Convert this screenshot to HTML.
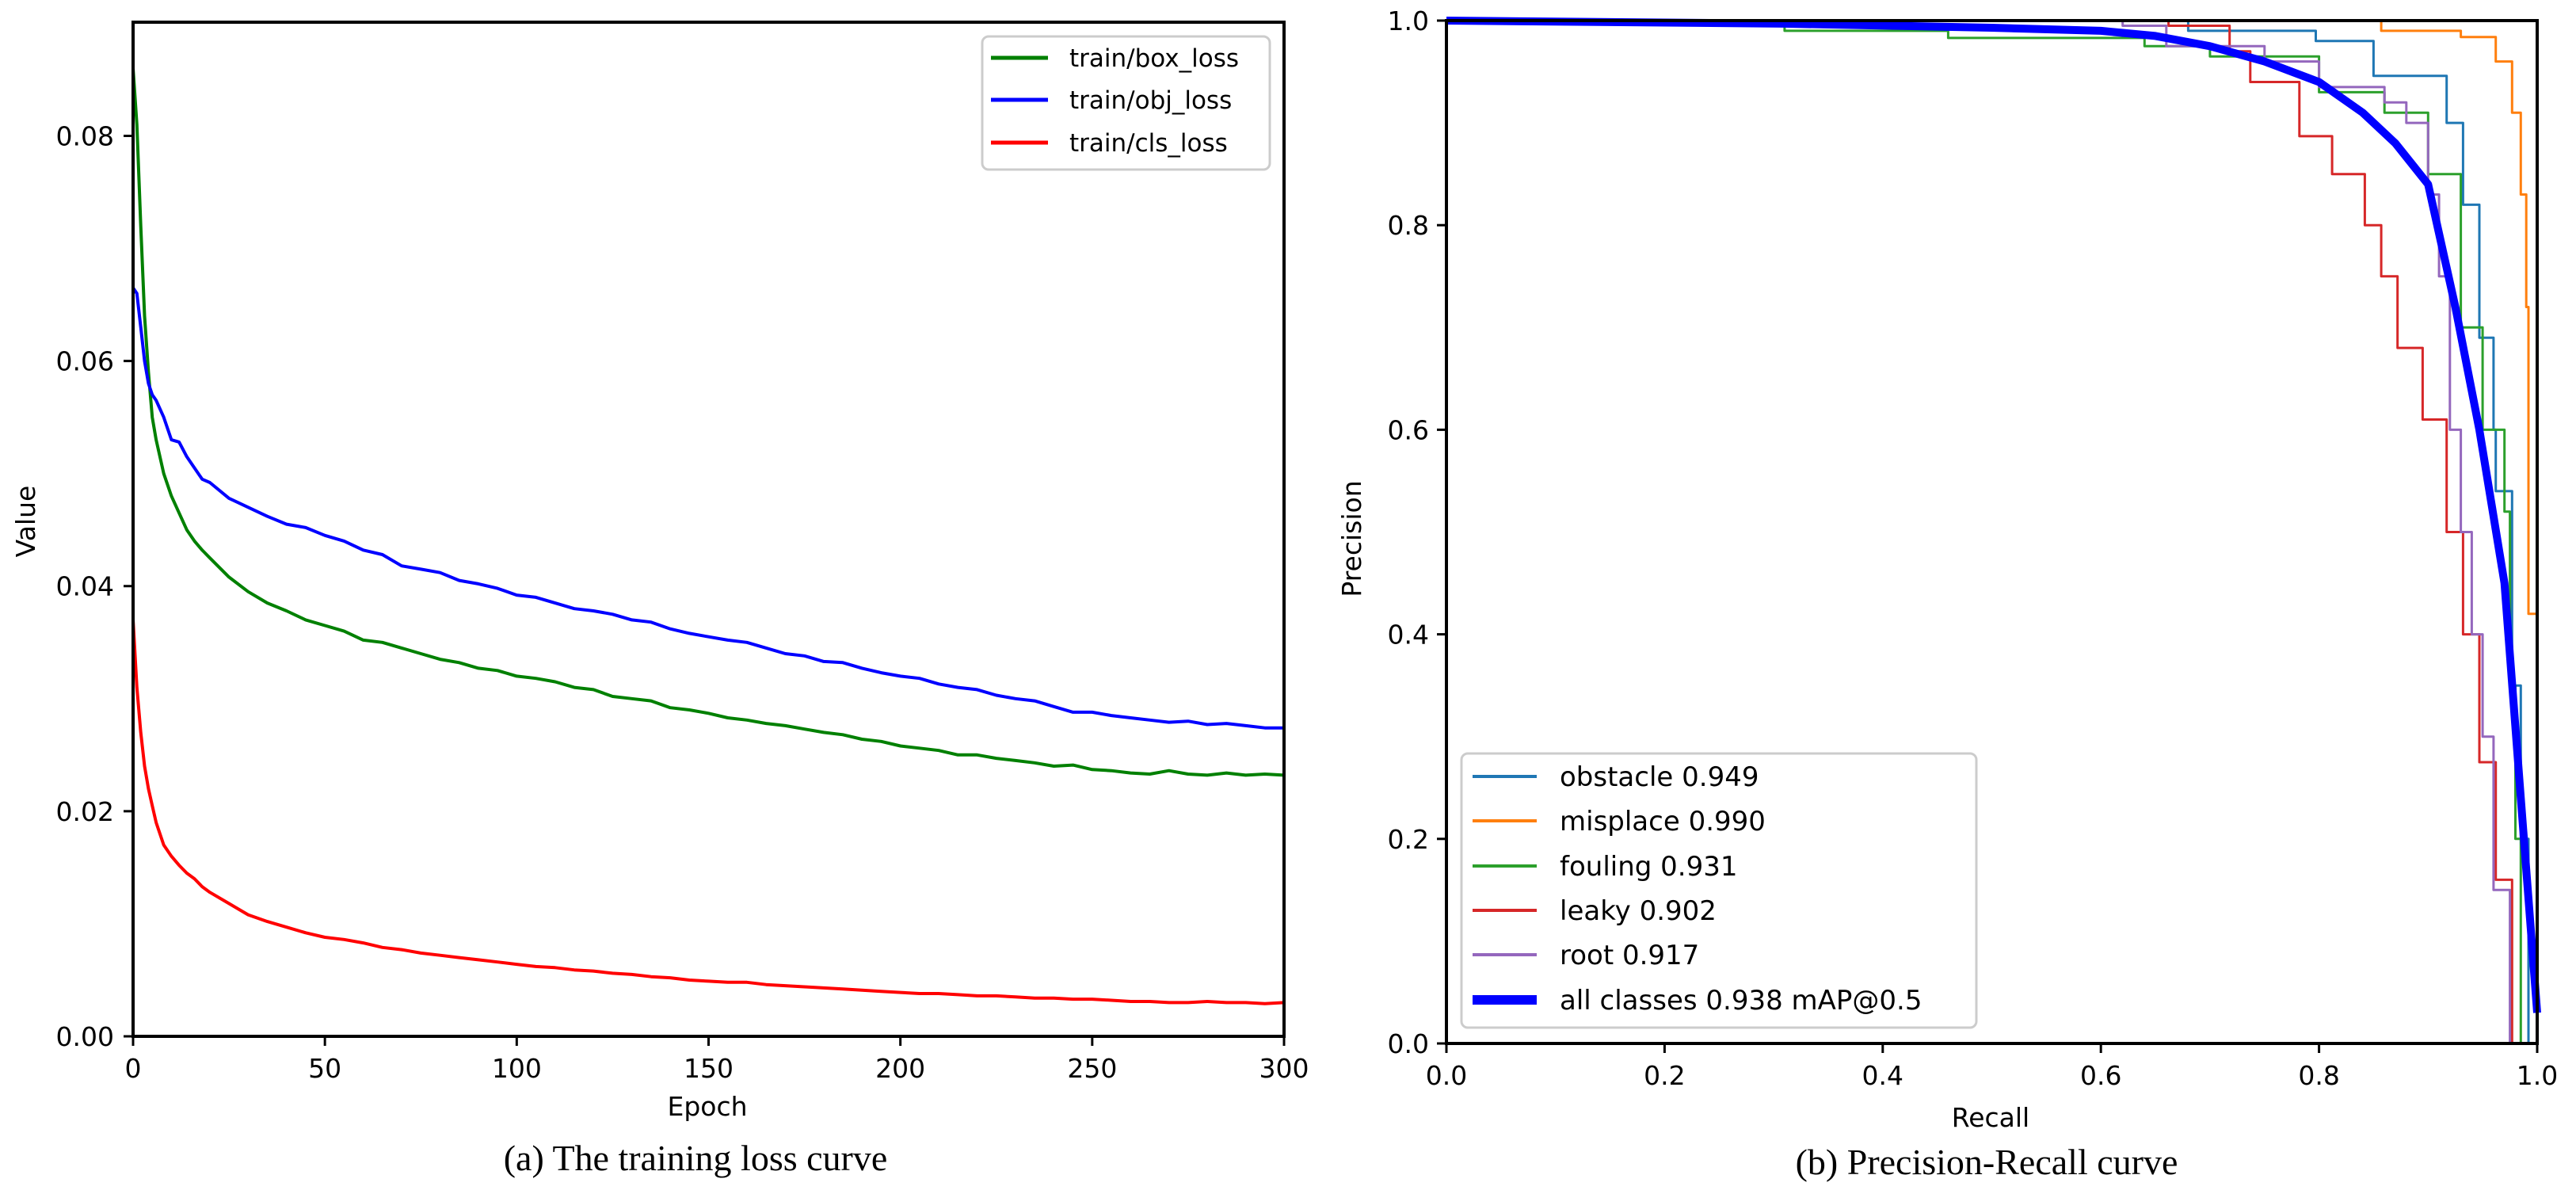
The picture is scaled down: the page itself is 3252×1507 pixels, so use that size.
<!DOCTYPE html>
<html><head><meta charset="utf-8">
<style>
html,body{margin:0;padding:0;background:#fff;}
svg{display:block;}
text{font-family:"DejaVu Sans","Liberation Sans",sans-serif;fill:#000;}
.cap{font-family:"Liberation Serif",serif;}
</style></head>
<body>
<svg id="fig" width="3252" height="1507" viewBox="0 0 3252 1507">
<g id="left"></g>
<g id="right"></g>
<text class="cap" x="878" y="1477" font-size="46" text-anchor="middle">(a) The training loss curve</text>
<text class="cap" x="2508" y="1482" font-size="46" text-anchor="middle">(b) Precision-Recall curve</text>
</svg>
<script>
const epochs=[0,1,2,3,4,5,6,8,10,12,14,16,18,20,25,30,35,40,45,50,55,60,65,70,75,80,85,90,95,100,105,110,115,120,125,130,135,140,145,150,155,160,165,170,175,180,185,190,195,200,205,210,215,220,225,230,235,240,245,250,255,260,265,270,275,280,285,290,295,300];
const boxLoss=[0.086,0.081,0.072,0.064,0.059,0.055,0.053,0.050,0.048,0.0465,0.045,0.0440,0.0432,0.0425,0.0408,0.0395,0.0385,0.0378,0.0370,0.0365,0.0360,0.0352,0.0350,0.0345,0.0340,0.0335,0.0332,0.0327,0.0325,0.0320,0.0318,0.0315,0.0310,0.0308,0.0302,0.0300,0.0298,0.0292,0.0290,0.0287,0.0283,0.0281,0.0278,0.0276,0.0273,0.0270,0.0268,0.0264,0.0262,0.0258,0.0256,0.0254,0.0250,0.0250,0.0247,0.0245,0.0243,0.0240,0.0241,0.0237,0.0236,0.0234,0.0233,0.0236,0.0233,0.0232,0.0234,0.0232,0.0233,0.0232];
const objLoss=[0.0665,0.066,0.063,0.060,0.058,0.057,0.0565,0.055,0.053,0.0528,0.0515,0.0505,0.0495,0.0492,0.0478,0.0470,0.0462,0.0455,0.0452,0.0445,0.0440,0.0432,0.0428,0.0418,0.0415,0.0412,0.0405,0.0402,0.0398,0.0392,0.0390,0.0385,0.0380,0.0378,0.0375,0.0370,0.0368,0.0362,0.0358,0.0355,0.0352,0.0350,0.0345,0.0340,0.0338,0.0333,0.0332,0.0327,0.0323,0.0320,0.0318,0.0313,0.0310,0.0308,0.0303,0.0300,0.0298,0.0293,0.0288,0.0288,0.0285,0.0283,0.0281,0.0279,0.0280,0.0277,0.0278,0.0276,0.0274,0.0274];
const clsLoss=[0.037,0.031,0.027,0.024,0.022,0.0205,0.019,0.017,0.016,0.0152,0.0145,0.014,0.0133,0.0128,0.0118,0.0108,0.0102,0.0097,0.0092,0.0088,0.0086,0.0083,0.0079,0.0077,0.0074,0.0072,0.0070,0.0068,0.0066,0.0064,0.0062,0.0061,0.0059,0.0058,0.0056,0.0055,0.0053,0.0052,0.0050,0.0049,0.0048,0.0048,0.0046,0.0045,0.0044,0.0043,0.0042,0.0041,0.0040,0.0039,0.0038,0.0038,0.0037,0.0036,0.0036,0.0035,0.0034,0.0034,0.0033,0.0033,0.0032,0.0031,0.0031,0.0030,0.0030,0.0031,0.0030,0.0030,0.0029,0.0030];
const lossXTicks=[0,50,100,150,200,250,300];
const lossYTicks=[0.00,0.02,0.04,0.06,0.08];

const obstacleR=[0,0.60,0.68,0.797,0.85,0.895,0.917,0.932,0.947,0.96,0.962,0.977,0.985,0.992];
const obstacleP=[1.0,1.0,0.99,0.98,0.946,0.946,0.90,0.82,0.69,0.60,0.54,0.35,0.20,0.0];
const misplaceR=[0,0.80,0.857,0.93,0.962,0.977,0.985,0.99,0.992,1.0];
const misplaceP=[1.0,1.0,0.99,0.984,0.96,0.91,0.83,0.72,0.42,0.27];
const foulingR=[0,0.31,0.46,0.64,0.70,0.80,0.86,0.90,0.93,0.95,0.97,0.975,0.98,0.985];
const foulingP=[1.0,0.99,0.983,0.975,0.965,0.93,0.91,0.85,0.70,0.60,0.52,0.35,0.20,0.0];
const leakyR=[0,0.662,0.718,0.737,0.782,0.812,0.842,0.857,0.872,0.895,0.917,0.932,0.947,0.962,0.977];
const leakyP=[1.0,0.995,0.97,0.94,0.887,0.85,0.80,0.75,0.68,0.61,0.50,0.40,0.275,0.16,0.0];
const rootR=[0,0.62,0.66,0.75,0.80,0.86,0.88,0.90,0.91,0.92,0.93,0.94,0.95,0.96,0.975];
const rootP=[1.0,0.995,0.975,0.96,0.935,0.92,0.90,0.83,0.75,0.60,0.50,0.40,0.30,0.15,0.0];
const allR=[0,0.31,0.50,0.60,0.65,0.70,0.75,0.80,0.84,0.87,0.90,0.925,0.947,0.97,0.985,1.0];
const allP=[1.0,0.997,0.993,0.99,0.985,0.975,0.96,0.94,0.91,0.88,0.84,0.72,0.60,0.45,0.24,0.03];
const prTicks=[0.0,0.2,0.4,0.6,0.8,1.0];

const NS="http://www.w3.org/2000/svg";
function mk(parent,tag,attrs){const e=document.createElementNS(NS,tag);for(const k in attrs)e.setAttribute(k,attrs[k]);parent.appendChild(e);return e;}

// Left chart
const L={x0:168,x1:1621,y0:1308,y1:28};
const lx=v=>L.x0+(v/300)*(L.x1-L.x0);
const ly=v=>L.y0-(v/0.0901)*(L.y0-L.y1);
const gl=document.getElementById('left');
function lossLine(vals,color,name){
  let d='';epochs.forEach((e,i)=>{d+=(i?'L':'M')+lx(e).toFixed(1)+' '+ly(vals[i]).toFixed(1);});
  const p=mk(gl,'path',{d:d,fill:'none',stroke:color,'stroke-width':4,'stroke-linejoin':'round'});
  
  
}
lossLine(boxLoss,'#008000','box-loss-line');
lossLine(objLoss,'#0000ff','obj-loss-line');
lossLine(clsLoss,'#ff0000','cls-loss-line');
mk(gl,'rect',{x:L.x0,y:L.y1,width:L.x1-L.x0,height:L.y0-L.y1,fill:'none',stroke:'#000','stroke-width':4});
lossXTicks.forEach(t=>{
  mk(gl,'line',{x1:lx(t),x2:lx(t),y1:L.y0,y2:L.y0+12,stroke:'#000','stroke-width':3});
  const tx=mk(gl,'text',{x:lx(t),y:L.y0+52,'font-size':33,'text-anchor':'middle'});tx.textContent=String(t);
  
  
});
lossYTicks.forEach(t=>{
  mk(gl,'line',{x1:L.x0-12,x2:L.x0,y1:ly(t),y2:ly(t),stroke:'#000','stroke-width':3});
  const tx=mk(gl,'text',{x:L.x0-24,y:ly(t)+12,'font-size':33,'text-anchor':'end'});tx.textContent=t.toFixed(2);
  
  
});
{
const t1=mk(gl,'text',{x:893,y:1408,'font-size':33,'text-anchor':'middle'});t1.textContent='Epoch';


const t2=mk(gl,'text',{x:0,y:0,'font-size':33,'text-anchor':'middle',transform:'translate(44,658) rotate(-90)'});t2.textContent='Value';


const lg=mk(gl,'g',{});


mk(lg,'rect',{x:1240,y:46,width:363,height:168,rx:8,fill:'#fff',stroke:'#ccc','stroke-width':3});
[['train/box_loss','#008000',73],['train/obj_loss','#0000ff',126],['train/cls_loss','#ff0000',180]].forEach(r=>{
  mk(lg,'line',{x1:1251,x2:1323,y1:r[2],y2:r[2],stroke:r[1],'stroke-width':5});
  const tx=mk(lg,'text',{x:1350,y:r[2]+11,'font-size':31});tx.textContent=r[0];
  
  
});
}

// Right chart
const R={x0:1826,x1:3203,y0:1317,y1:26};
const rx=v=>R.x0+v*(R.x1-R.x0);
const ry=v=>R.y0-v*(R.y0-R.y1);
const gr=document.getElementById('right');
function prLine(rs,ps,color,w,name){
  let d='';rs.forEach((r,i)=>{
    if(i===0)d+='M'+rx(r).toFixed(1)+' '+ry(ps[i]).toFixed(1);
    else d+='L'+rx(r).toFixed(1)+' '+ry(ps[i-1]).toFixed(1)+'L'+rx(r).toFixed(1)+' '+ry(ps[i]).toFixed(1);
  });
  const p=mk(gr,'path',{d:d,fill:'none',stroke:color,'stroke-width':w,'stroke-linejoin':'round'});
  
  
}
prLine(obstacleR,obstacleP,'#1f77b4',3,'obstacle-curve');
prLine(misplaceR,misplaceP,'#ff7f0e',3,'misplace-curve');
prLine(foulingR,foulingP,'#2ca02c',3,'fouling-curve');
prLine(leakyR,leakyP,'#d62728',3,'leaky-curve');
prLine(rootR,rootP,'#9467bd',3,'root-curve');
{
let d='';allR.forEach((r,i)=>{d+=(i?'L':'M')+rx(r).toFixed(1)+' '+ry(allP[i]).toFixed(1);});
const p=mk(gr,'path',{d:d,fill:'none',stroke:'#0000ff','stroke-width':10,'stroke-linejoin':'round'});


}
mk(gr,'rect',{x:R.x0,y:R.y1,width:R.x1-R.x0,height:R.y0-R.y1,fill:'none',stroke:'#000','stroke-width':4});
prTicks.forEach(t=>{
  mk(gr,'line',{x1:rx(t),x2:rx(t),y1:R.y0,y2:R.y0+12,stroke:'#000','stroke-width':3});
  const tx=mk(gr,'text',{x:rx(t),y:R.y0+52,'font-size':33,'text-anchor':'middle'});tx.textContent=t.toFixed(1);
  
  
  mk(gr,'line',{x1:R.x0-12,x2:R.x0,y1:ry(t),y2:ry(t),stroke:'#000','stroke-width':3});
  const ty=mk(gr,'text',{x:R.x0-22,y:ry(t)+12,'font-size':33,'text-anchor':'end'});ty.textContent=t.toFixed(1);
  
  
});
{
const t1=mk(gr,'text',{x:2513,y:1422,'font-size':33,'text-anchor':'middle'});t1.textContent='Recall';


const t2=mk(gr,'text',{x:0,y:0,'font-size':33,'text-anchor':'middle',transform:'translate(1718,680) rotate(-90)'});t2.textContent='Precision';


const lg=mk(gr,'g',{});


mk(lg,'rect',{x:1845,y:951,width:650,height:346,rx:8,fill:'#fff','fill-opacity':0.85,stroke:'#ccc','stroke-width':3});
[['obstacle 0.949','#1f77b4',980,4],['misplace 0.990','#ff7f0e',1036,4],['fouling 0.931','#2ca02c',1093,4],['leaky 0.902','#d62728',1149,4],['root 0.917','#9467bd',1205,4],['all classes 0.938 mAP@0.5','#0000ff',1262,12]].forEach(r=>{
  mk(lg,'line',{x1:1859,x2:1940,y1:r[2],y2:r[2],stroke:r[1],'stroke-width':r[3]});
  const tx=mk(lg,'text',{x:1969,y:r[2]+12,'font-size':34});tx.textContent=r[0];
  
  
});
}
</script>
</body></html>
